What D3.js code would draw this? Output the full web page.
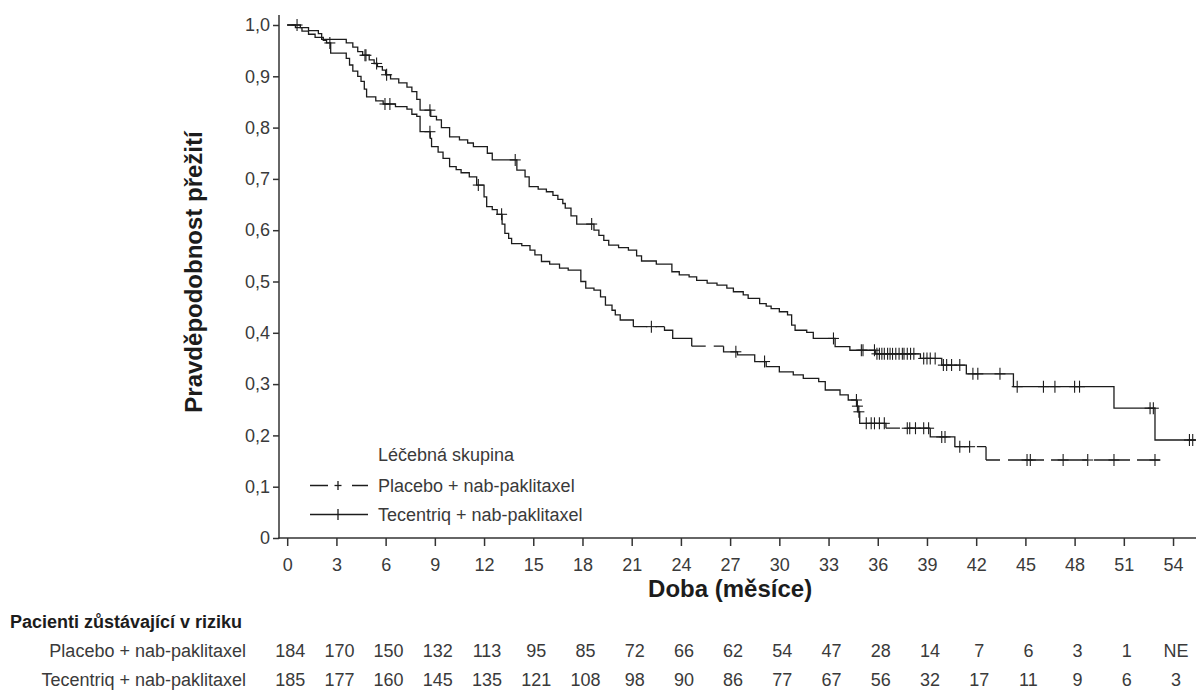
<!DOCTYPE html>
<html lang="cs">
<head>
<meta charset="utf-8">
<title>Pravděpodobnost přežití</title>
<script src="https://cdn.jsdelivr.net/npm/d3@7"></script>
<style>
  html, body { margin: 0; padding: 0; background: #fff; }
  svg { display: block; font-family: "Liberation Sans", Arial, sans-serif; }
</style>
</head>
<body>
<svg id="chart" width="1196" height="690"></svg>
<script>
// ---- data ----
const xTicks = [0, 3, 6, 9, 12, 15, 18, 21, 24, 27, 30, 33, 36, 39, 42, 45, 48, 51, 54];
const yTicks = [0, 0.1, 0.2, 0.3, 0.4, 0.5, 0.6, 0.7, 0.8, 0.9, 1.0];
const yTickLabels = ["0", "0,1", "0,2", "0,3", "0,4", "0,5", "0,6", "0,7", "0,8", "0,9", "1,0"];

const groupNames = ["Placebo + nab-paklitaxel", "Tecentriq + nab-paklitaxel"];

const atRiskPlacebo   = ["184", "170", "150", "132", "113", "95", "85", "72", "66", "62", "54", "47", "28", "14", "7", "6", "3", "1", "NE"];
const atRiskTecentriq = ["185", "177", "160", "145", "135", "121", "108", "98", "90", "86", "77", "67", "56", "32", "17", "11", "9", "6", "3"];

// Kaplan-Meier steps: [month, survival after the event]
const placeboSteps = [
  [0, 1.0], [0.5, 0.995], [0.9, 0.988], [1.3, 0.982], [1.7, 0.976], [2.2, 0.970], [2.4, 0.965],
  [2.65, 0.945], [3.6, 0.935], [3.8, 0.922], [4.0, 0.910], [4.3, 0.900], [4.5, 0.890], [4.7, 0.875],
  [4.84, 0.860], [5.4, 0.852], [5.85, 0.846], [6.6, 0.841], [7.3, 0.836], [7.6, 0.826], [7.9, 0.822],
  [8.1, 0.792], [8.72, 0.779], [8.8, 0.763], [9.2, 0.752], [9.5, 0.740], [9.9, 0.724], [10.3, 0.718],
  [10.6, 0.712], [11.1, 0.704], [11.55, 0.688], [12.0, 0.665], [12.16, 0.646], [12.5, 0.640],
  [12.8, 0.631], [13.1, 0.612], [13.27, 0.594], [13.5, 0.584], [13.68, 0.574], [14.3, 0.570],
  [14.8, 0.561], [15.1, 0.552], [15.5, 0.539], [16.0, 0.534], [16.6, 0.526], [17.13, 0.522],
  [17.9, 0.500], [18.2, 0.487], [18.7, 0.483], [19.1, 0.470], [19.4, 0.454], [19.8, 0.444],
  [20.0, 0.435], [20.3, 0.425], [21.1, 0.412], [23.0, 0.405], [23.5, 0.389], [24.66, 0.374],
  [26.6, 0.363], [27.45, 0.357], [28.5, 0.344], [29.2, 0.334], [30.0, 0.324], [30.85, 0.318],
  [31.46, 0.311], [32.4, 0.305], [32.8, 0.2885], [33.7, 0.279], [34.2, 0.269], [34.72, 0.257],
  [34.8, 0.246], [34.9, 0.2235], [36.5, 0.214], [39.2, 0.197], [40.7, 0.178], [42.6, 0.152]
];
const placeboEnd = 53.2;
const placeboCensored = [
  2.6, 5.96, 6.26, 8.7, 11.65, 13.07, 22.2, 27.35, 29.1, 34.7, 34.76, 34.85,
  35.3, 35.6, 35.8, 36.1, 36.4, 37.8, 37.95, 38.3, 38.8, 39.1, 39.9, 40.1, 41.0, 41.6,
  45.1, 45.3, 47.3, 48.8, 50.4, 52.9
];

const tecentriqSteps = [
  [0, 1.0], [0.8, 0.995], [1.3, 0.989], [1.9, 0.983], [2.1, 0.972], [3.6, 0.965], [4.0, 0.957],
  [4.3, 0.948], [4.6, 0.941], [5.0, 0.932], [5.3, 0.925], [5.5, 0.919], [5.8, 0.912], [6.0, 0.903],
  [6.3, 0.895], [6.8, 0.887], [7.3, 0.879], [7.6, 0.870], [7.9, 0.855], [8.1, 0.834], [8.75, 0.822],
  [9.1, 0.815], [9.4, 0.800], [9.9, 0.782], [10.5, 0.776], [11.0, 0.770], [11.35, 0.763],
  [12.2, 0.750], [12.5, 0.737], [14.0, 0.717], [14.5, 0.704], [14.75, 0.685], [15.3, 0.680],
  [15.8, 0.675], [16.2, 0.668], [16.5, 0.660], [16.8, 0.652], [16.95, 0.643], [17.3, 0.628],
  [17.65, 0.612], [18.7, 0.600], [19.0, 0.590], [19.3, 0.580], [19.6, 0.571], [20.2, 0.566],
  [20.8, 0.561], [21.3, 0.550], [21.6, 0.540], [22.5, 0.534], [23.45, 0.519], [23.9, 0.513],
  [24.5, 0.509], [24.96, 0.502], [25.6, 0.497], [26.2, 0.493], [26.8, 0.487], [27.2, 0.480],
  [27.8, 0.474], [28.1, 0.467], [28.8, 0.457], [29.2, 0.452], [29.5, 0.447], [30.0, 0.441],
  [30.5, 0.435], [30.75, 0.415], [30.96, 0.405], [31.67, 0.401], [32.07, 0.389], [33.4, 0.373],
  [34.3, 0.366], [35.85, 0.359], [38.6, 0.350], [39.9, 0.337], [41.4, 0.320], [44.27, 0.295],
  [50.4, 0.253], [52.9, 0.191]
];
const tecentriqEnd = 55.4;
const tecentriqCensored = [
  0.6, 4.74, 4.8, 5.45, 6.06, 8.7, 13.9, 18.56, 33.3, 35.0, 35.1, 35.8,
  35.95, 36.1, 36.25, 36.4, 36.6, 36.75, 36.9, 37.1, 37.3, 37.5, 37.6, 37.8, 38.0, 38.2,
  38.8, 39.0, 39.2, 39.5, 40.0, 40.2, 40.5, 41.0, 41.8, 42.1, 43.45, 44.5, 46.1, 46.8,
  48.0, 48.3, 52.6, 52.8, 55.0, 55.2
];

// ---- layout ----
const svg = d3.select("#chart");
const x = d3.scaleLinear().domain([-0.5, 55.4]).range([279, 1196]);
const y = d3.scaleLinear().domain([0, 1]).range([538, 25]);

const ink = "#1c1c1c";
const textCol = "#3a3a3a";
const font = "18px";

// survival at time t from a step list
function survAt(steps, t) {
  let s = steps[0][1];
  for (const [ti, si] of steps) { if (ti <= t) s = si; else break; }
  return s;
}

// horizontal runs and vertical drops of a step curve
function stepSegments(steps, end) {
  const segs = [];
  for (let i = 0; i < steps.length; i++) {
    const [t, s] = steps[i];
    const tNext = i + 1 < steps.length ? steps[i + 1][0] : end;
    segs.push({ kind: "h", x0: t, x1: tNext, y0: s, y1: s });
    if (i + 1 < steps.length) segs.push({ kind: "v", x0: tNext, x1: tNext, y0: s, y1: steps[i + 1][1] });
  }
  return segs;
}

// ---- axes ----
const yAxis = d3.axisLeft(y).tickValues(yTicks).tickSize(6).tickSizeOuter(0)
  .tickFormat((d, i) => yTickLabels[i]);
const gy = svg.append("g").attr("transform", "translate(279,0)").call(yAxis);
gy.select(".domain").remove();
gy.selectAll(".tick line").attr("stroke", "#333").attr("stroke-width", 1.5);
gy.selectAll(".tick text").attr("fill", textCol).style("font-size", font)
  .style("font-family", "Liberation Sans, Arial, sans-serif").attr("x", -9);

const xAxis = d3.axisBottom(x).tickValues(xTicks).tickSize(8).tickSizeOuter(0);
const gx = svg.append("g").attr("transform", "translate(0,538)").call(xAxis);
gx.select(".domain").remove();
gx.selectAll(".tick line").attr("stroke", "#333").attr("stroke-width", 1.5);
gx.selectAll(".tick text").attr("fill", textCol).style("font-size", font)
  .style("font-family", "Liberation Sans, Arial, sans-serif").attr("y", 20).attr("dy", "0.71em");

// axis lines
svg.append("line").attr("x1", 279).attr("x2", 279).attr("y1", 538.75).attr("y2", 15)
  .attr("stroke", "#333").attr("stroke-width", 1.5);
svg.append("line").attr("x1", 278.25).attr("x2", 1196).attr("y1", 538).attr("y2", 538)
  .attr("stroke", "#333").attr("stroke-width", 1.5);

// axis titles
svg.append("text").attr("transform", "translate(202,272) rotate(-90)")
  .attr("text-anchor", "middle").attr("fill", ink)
  .style("font-size", "24px").style("font-weight", "bold")
  .text("Pravděpodobnost přežití");
svg.append("text").attr("x", x(27)).attr("y", 597)
  .attr("text-anchor", "middle").attr("fill", ink)
  .style("font-size", "24px").style("font-weight", "bold")
  .text("Doba (měsíce)");

// ---- curves ----
const dashPattern = "14,8,36,7,36,7,36,7,36,7,36,7";
const minDashRun = 1.85; // months

function drawCurve(steps, end, censored, dashed) {
  const g = svg.append("g").attr("fill", "none").attr("stroke", ink).attr("stroke-width", 1.3);
  const segs = stepSegments(steps, end);
  if (!dashed) {
    const p = d3.path();
    segs.forEach((s, i) => {
      if (i === 0) p.moveTo(x(s.x0), y(s.y0));
      p.lineTo(x(s.x1), y(s.y1));
    });
    g.append("path").attr("d", p.toString()).attr("stroke-linejoin", "miter");
  } else {
    const p = d3.path();
    segs.forEach((s, i) => {
      if (i === 0) p.moveTo(x(s.x0), y(s.y0));
      if (s.kind === "h" && s.x1 - s.x0 >= minDashRun) {
        p.moveTo(x(s.x1), y(s.y1));
      } else {
        p.lineTo(x(s.x1), y(s.y1));
      }
    });
    g.append("path").attr("d", p.toString());
    segs.filter(s => s.kind === "h" && s.x1 - s.x0 >= minDashRun).forEach(s => {
      g.append("line").attr("x1", x(s.x0)).attr("x2", x(s.x1))
        .attr("y1", y(s.y0)).attr("y2", y(s.y0))
        .attr("stroke-dasharray", dashPattern);
    });
  }
  // censoring marks
  const cg = svg.append("g").attr("stroke", ink).attr("stroke-width", 1.1);
  censored.forEach(t => {
    const cx = x(t), cy = y(survAt(steps, t));
    cg.append("line").attr("x1", cx - 5.5).attr("x2", cx + 5.5).attr("y1", cy).attr("y2", cy);
    cg.append("line").attr("x1", cx).attr("x2", cx).attr("y1", cy - 6).attr("y2", cy + 6);
  });
}

drawCurve(placeboSteps, placeboEnd, placeboCensored, true);
drawCurve(tecentriqSteps, tecentriqEnd, tecentriqCensored, false);

// ---- legend ----
const lg = svg.append("g");
lg.append("text").attr("x", 378).attr("y", 461).attr("fill", textCol)
  .style("font-size", font).text("Léčebná skupina");
lg.append("text").attr("x", 378).attr("y", 492).attr("fill", textCol)
  .style("font-size", font).text(groupNames[0]);
lg.append("text").attr("x", 378).attr("y", 521).attr("fill", textCol)
  .style("font-size", font).text(groupNames[1]);
// placebo symbol: dash, cross, dash
lg.append("line").attr("x1", 310).attr("x2", 328).attr("y1", 485.5).attr("y2", 485.5).attr("stroke", ink).attr("stroke-width", 1.5);
lg.append("line").attr("x1", 352).attr("x2", 368).attr("y1", 485.5).attr("y2", 485.5).attr("stroke", ink).attr("stroke-width", 1.5);
lg.append("line").attr("x1", 334.5).attr("x2", 341.5).attr("y1", 485.5).attr("y2", 485.5).attr("stroke", ink).attr("stroke-width", 1.3);
lg.append("line").attr("x1", 338).attr("x2", 338).attr("y1", 481).attr("y2", 490).attr("stroke", ink).attr("stroke-width", 1.3);
// tecentriq symbol: solid line with tick
lg.append("line").attr("x1", 310).attr("x2", 368).attr("y1", 514.5).attr("y2", 514.5).attr("stroke", ink).attr("stroke-width", 1.5);
lg.append("line").attr("x1", 338).attr("x2", 338).attr("y1", 509).attr("y2", 520).attr("stroke", ink).attr("stroke-width", 1.3);

// ---- number at risk ----
svg.append("text").attr("x", 10).attr("y", 628).attr("fill", ink)
  .style("font-size", font).style("font-weight", "bold")
  .text("Pacienti zůstávající v riziku");
const rows = [atRiskPlacebo, atRiskTecentriq];
const rowY = [657, 686];
rows.forEach((vals, r) => {
  svg.append("text").attr("x", 246).attr("y", rowY[r]).attr("text-anchor", "end")
    .attr("fill", textCol).style("font-size", font).text(groupNames[r]);
  svg.append("g").selectAll("text").data(vals).join("text")
    .attr("x", (d, i) => x(xTicks[i]) + 3)
    .attr("y", rowY[r])
    .attr("text-anchor", "middle")
    .attr("fill", textCol).style("font-size", font)
    .text(d => d);
});
</script>
</body>
</html>
